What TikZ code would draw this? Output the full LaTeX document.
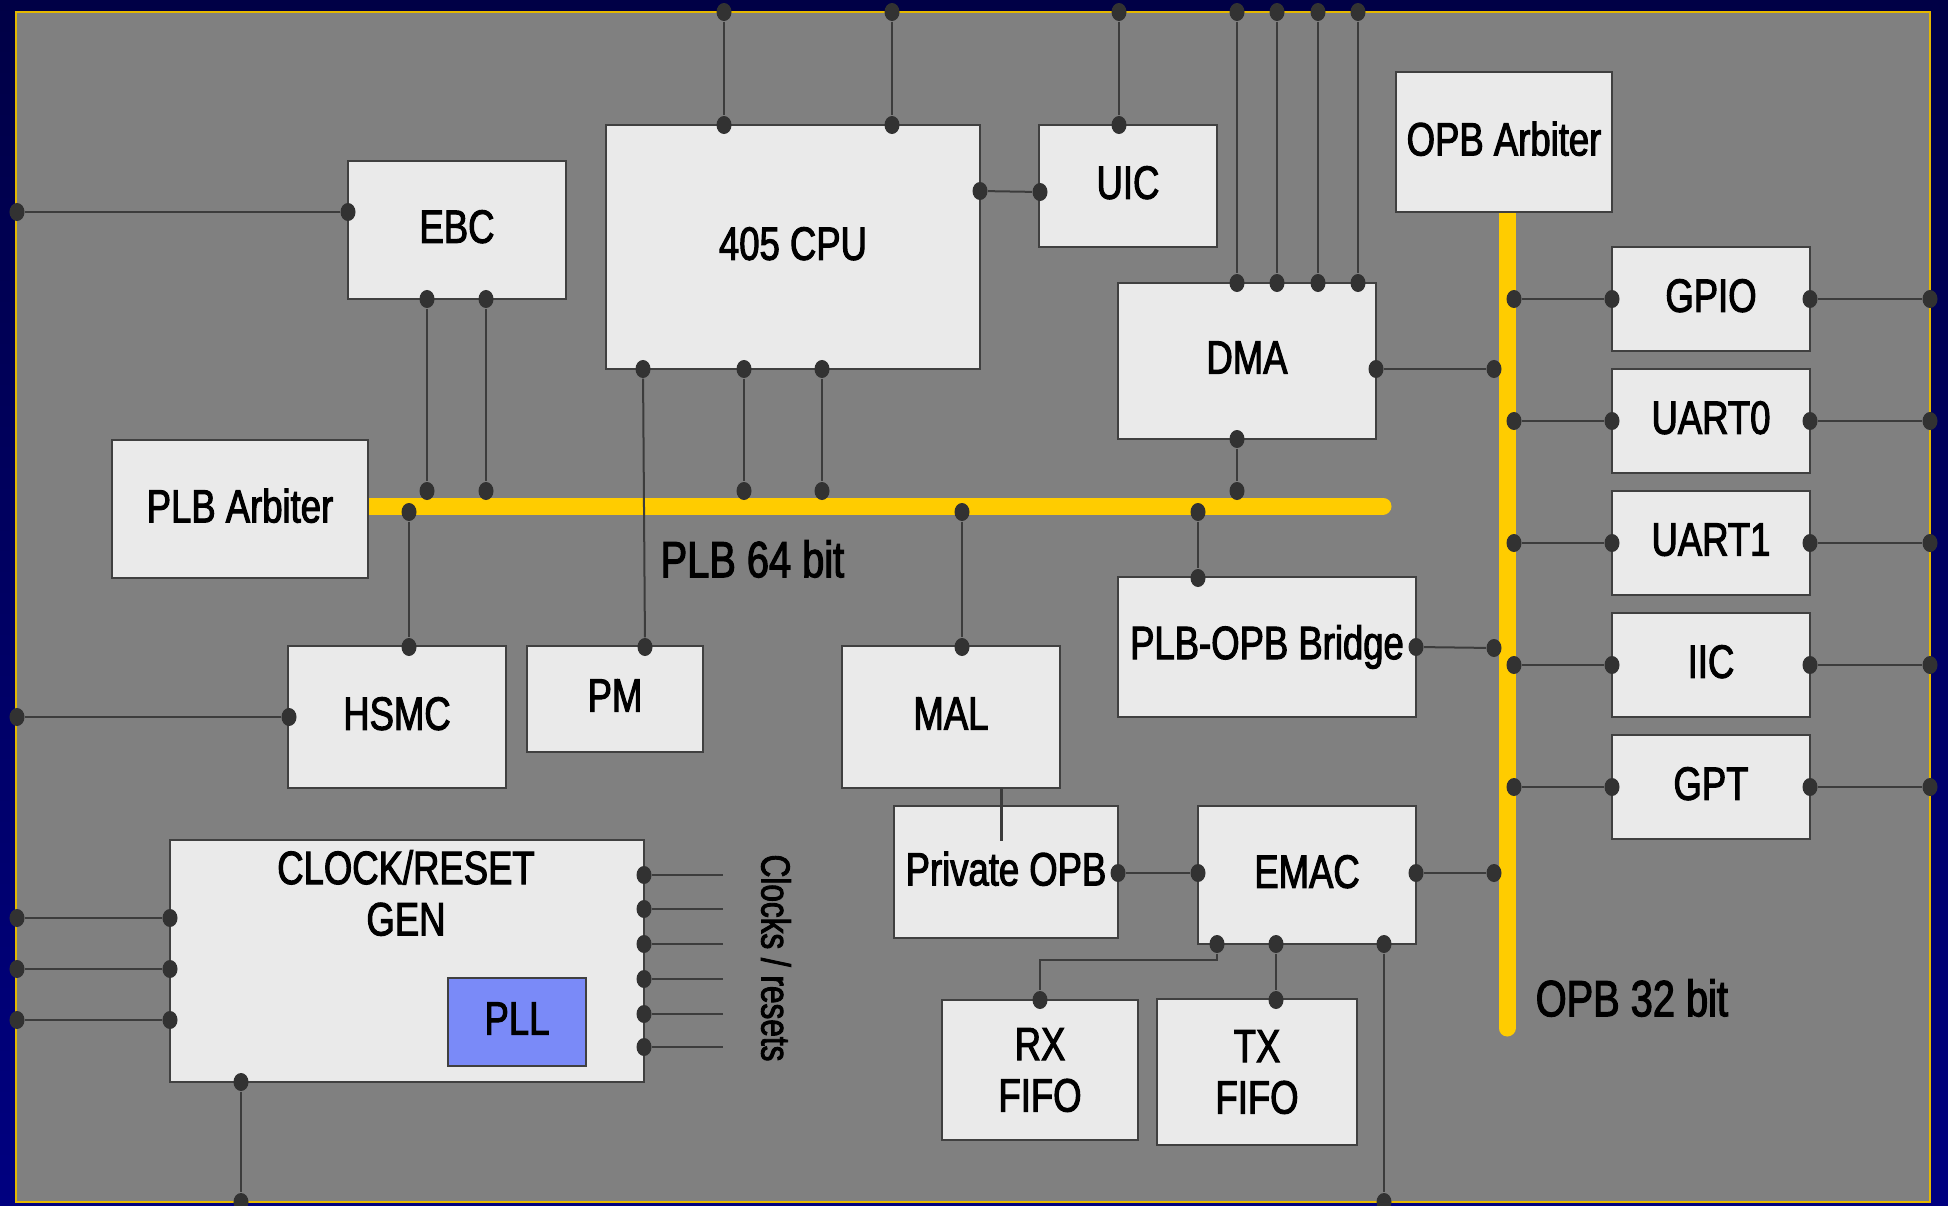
\documentclass[tikz,border=0pt]{standalone}
\usepackage{fontspec}
\setmainfont{Liberation Sans}[FakeStretch=0.78,FakeBold=2.2]
\usepackage{tikz}
\usetikzlibrary{positioning,shapes.geometric}
\definecolor{navytop}{RGB}{0,0,70}
\definecolor{navybot}{RGB}{0,0,128}
\definecolor{panelgray}{RGB}{128,128,128}
\definecolor{boxfill}{RGB}{234,234,234}
\definecolor{boxline}{RGB}{64,64,64}
\definecolor{wirec}{RGB}{60,60,60}
\definecolor{dotc}{RGB}{50,50,50}
\definecolor{busyellow}{RGB}{255,204,0}
\definecolor{pllblue}{RGB}{122,138,248}
\newcommand{\boxfont}{\fontsize{13.3}{14.6}\selectfont}
\tikzset{
blk/.style={
draw=boxline,
line width=0.02cm,
fill=boxfill,
inner sep=0pt,
align=center,
font=\boxfont
},
oneline/.style={
text depth=0.07cm
},
wire/.style={
draw=wirec,
line width=0.02cm
},
dot/.style={
ellipse,
fill=dotc,
inner sep=0pt,
minimum width=0.15cm,
minimum height=0.18cm
},
bus/.style={
draw=busyellow,
line width=0.17cm,
line cap=round
},
buslabel/.style={
font=\fontsize{14.5}{17}\selectfont,
inner sep=0pt
}
}

\begin{document}
\begin{tikzpicture}[x=0.01cm,y=-0.01cm]
\useasboundingbox (0,0) rectangle (1948,1206);
\shade[top color=navytop,bottom color=navybot] (0,0) rectangle (1948,1206);
\draw[draw=busyellow!90!black,line width=0.02cm,fill=panelgray] (16,12) rectangle (1930,1202);

% buses
\draw[bus] (368,506) -- (1383,506);
\draw[bus] (1507,200) -- (1507,1028);

% blocks
\node[blk,oneline,minimum width=2.18cm,minimum height=1.38cm](ebc) at (457,230){EBC};
\node[blk,oneline,minimum width=3.74cm,minimum height=2.44cm](cpu) at (793,247){405 CPU};
\node[blk,oneline,minimum width=1.77cm,minimum height=1.22cm](uic) at (1128,186){UIC};
\node[blk,oneline,minimum width=2.16cm,minimum height=1.39cm](opbarb) at (1504,142){OPB Arbiter};
\node[blk,oneline,minimum width=2.58cm,minimum height=1.56cm](dma) at (1247,361){DMA};
\node[blk,oneline,minimum width=2.56cm,minimum height=1.38cm](plbarb) at (240,509){PLB Arbiter};
\node[blk,oneline,minimum width=2.17cm,minimum height=1.41cm](hsmc) at (397,717){HSMC};
\node[blk,oneline,minimum width=1.76cm,minimum height=1.05cm](pm) at (615,699){PM};
\node[blk,oneline,minimum width=2.18cm,minimum height=1.41cm](mal) at (951,717){MAL};
\node[blk,minimum width=2.98cm,minimum height=1.39cm](bridge) at (1267,647){PLB-OPB Bridge};
\node[blk,oneline,minimum width=2.24cm,minimum height=1.32cm](popb) at (1006,872){Private OPB};
\node[blk,oneline,minimum width=2.18cm,minimum height=1.38cm](emac) at (1307,875){EMAC};
\node[blk,minimum width=1.95cm,minimum height=1.40cm](rxfifo) at (1040,1070){RX\\FIFO};
\node[blk,minimum width=1.99cm,minimum height=1.45cm](txfifo) at (1257,1072){TX\\FIFO};
\node[blk,minimum width=4.74cm,minimum height=2.42cm](clkgen) at (407,961){};
\node[font=\boxfont,align=center](clktext) at (406,893){CLOCK/RESET\\GEN};
\node[blk,oneline,fill=pllblue,minimum width=1.38cm,minimum height=0.88cm](pll) at (517,1022){PLL};

% labels
\node[buslabel,anchor=west](plblabel) at (660,559){PLB 64 bit};
\node[buslabel,anchor=west](opblabel) at (1535,998){OPB 32 bit};
\node[font=\fontsize{11.5}{13}\selectfont,rotate=-90](clklabel) at (776,958){Clocks / resets};

% lines from the top edge
\foreach \x/\yb [count=\i] in {724/125,892/125,1119/125,1237/283,1277/283,1318/283,1358/283}{
\node[dot](top\i) at (\x,12){};
\node[dot](drop\i) at (\x,\yb){};
\draw[wire](top\i)--(drop\i);
}

% PLB taps from above
\foreach \x/\ya [count=\i] in {427/299,486/299,744/369,822/369,1237/439}{
\node[dot](up\i) at (\x,\ya){};
\node[dot](plbt\i) at (\x,491){};
\draw[wire](up\i)--(plbt\i);
}

% PLB taps from below
\foreach \x/\yb [count=\i] in {409/647,962/647,1198/578}{
\node[dot](plbb\i) at (\x,512){};
\node[dot](dn\i) at (\x,\yb){};
\draw[wire](plbb\i)--(dn\i);
}

% CPU to PM
\node[dot](cpupm) at (643,369){};
\node[dot](pmtop) at (645,647){};
\draw[wire](cpupm)--(pmtop);

% CPU to UIC
\node[dot](cpuuic) at (980,191){};
\node[dot](uicin) at (1040,192){};
\draw[wire](cpuuic)--(uicin);

% edge to EBC and HSMC
\node[dot](ebcedge) at (17,212){};
\node[dot](ebcin) at (348,212){};
\draw[wire](ebcedge)--(ebcin);
\node[dot](hsmcedge) at (17,717){};
\node[dot](hsmcin) at (289,717){};
\draw[wire](hsmcedge)--(hsmcin);

% OPB taps on the left
\foreach \xa/\ya/\yb [count=\i] in {1376/369/369,1416/647/648,1416/873/873}{
\node[dot](opbsrc\i) at (\xa,\ya){};
\node[dot](opbl\i) at (1494,\yb){};
\draw[wire](opbsrc\i)--(opbl\i);
}

% OPB peripherals
\foreach \n/\t/\y in {gpio/GPIO/299,uart0/UART0/421,uart1/UART1/543,iic/IIC/665,gpt/GPT/787}{
\node[blk,oneline,minimum width=1.98cm,minimum height=1.04cm](\n) at (1711,\y){\t};
\node[dot](\n bus) at (1514,\y){};
\node[dot](\n in) at (1612,\y){};
\node[dot](\n out) at (1810,\y){};
\node[dot](\n edge) at (1930,\y){};
\draw[wire](\n bus)--(\n in);
\draw[wire](\n out)--(\n edge);
}

% MAL to private OPB
\coordinate(malbot) at (1001,788);
\coordinate(popbin) at (1001,841);
\draw[wire,line width=0.03cm](malbot)--(popbin);

% private OPB to EMAC
\node[dot](popbout) at (1118,873){};
\node[dot](emacin) at (1198,873){};
\draw[wire](popbout)--(emacin);

% EMAC to FIFOs and edge
\node[dot](emacrx) at (1217,944){};
\node[dot](emactx) at (1276,944){};
\node[dot](emacpin) at (1384,944){};
\node[dot](rxtop) at (1040,1000){};
\node[dot](txtop) at (1276,1000){};
\node[dot](emacedge) at (1384,1202){};
\draw[wire](emacrx)--++(0,16)-|(rxtop);
\draw[wire](emactx)--(txtop);
\draw[wire](emacpin)--(emacedge);

% clock/reset generator
\foreach \y [count=\i] in {918,969,1020}{
\node[dot](clkedge\i) at (17,\y){};
\node[dot](clkin\i) at (170,\y){};
\draw[wire](clkedge\i)--(clkin\i);
}
\foreach \y [count=\i] in {875,909,944,979,1014,1047}{
\node[dot](clkout\i) at (644,\y){};
\coordinate(clkend\i) at (723,\y);
\draw[wire](clkout\i)--(clkend\i);
}
\node[dot](clkbot) at (241,1082){};
\node[dot](clkedge) at (241,1202){};
\draw[wire](clkbot)--(clkedge);
\end{tikzpicture}
\end{document}
